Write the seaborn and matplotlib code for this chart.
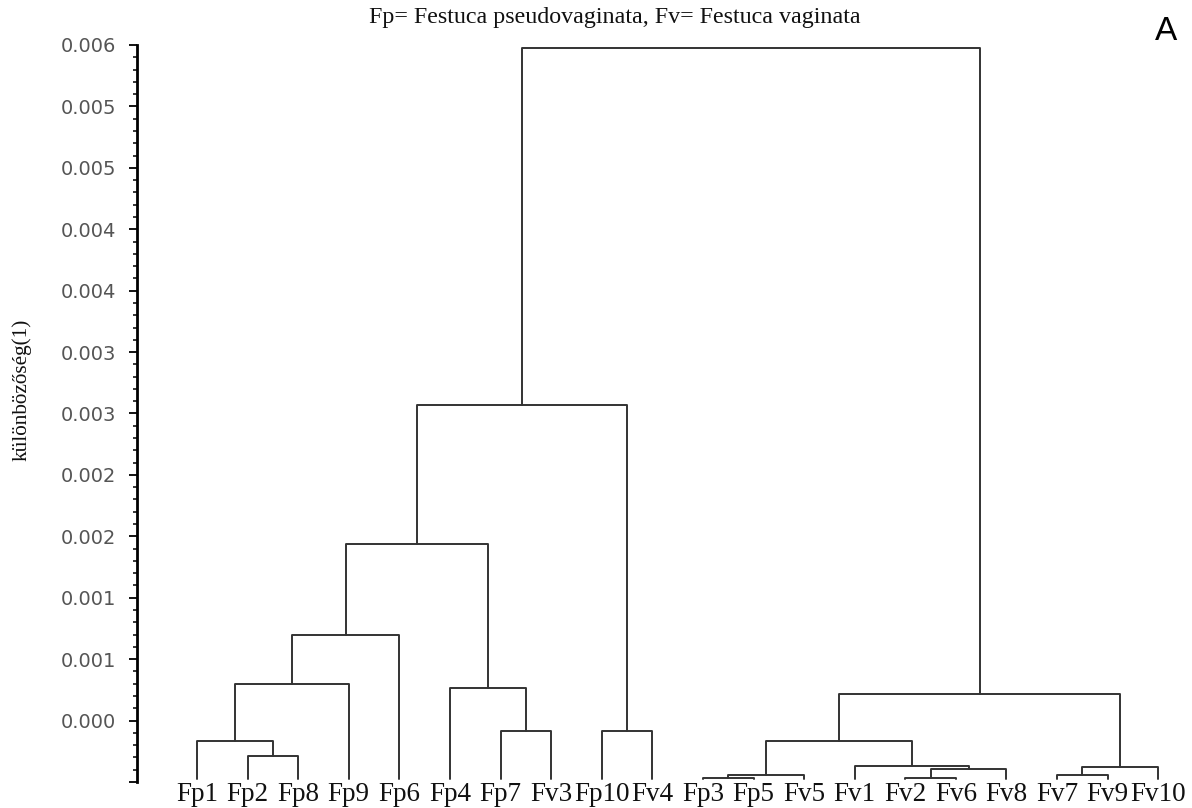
import numpy as np
import pandas as pd
import seaborn as sns
import matplotlib.pyplot as plt
from matplotlib.ticker import MultipleLocator

# leaf order along the bottom
leaves = ["Fp1", "Fp2", "Fp8", "Fp9", "Fp6", "Fp4", "Fp7", "Fv3", "Fp10", "Fv4",
          "Fp3", "Fp5", "Fv5", "Fv1", "Fv2", "Fv6", "Fv8", "Fv7", "Fv9", "Fv10"]

# merges
node_names = ["c1", "c2", "c3", "c4", "c5", "c6", "c7", "c8", "c9", "c10",
              "c11", "c12", "c13", "c14", "c15", "c16", "c17", "c18", "c19"]
left_child = ["Fp2", "Fp1", "c2", "c3", "Fp7", "Fp4", "c4", "Fp10", "c7", "Fp3",
              "c10", "Fv2", "c12", "Fv1", "c11", "Fv7", "c16", "c15", "c9"]
right_child = ["Fp8", "c1", "Fp9", "Fp6", "Fv3", "c5", "c6", "Fv4", "c8", "Fp5",
               "Fv5", "Fv6", "Fv8", "c13", "c14", "Fv9", "Fv10", "c17", "c18"]
heights = [-0.000286, -0.000164, 0.000295, 0.000696, -0.000082, 0.000262, 0.00144,
           -0.000082, 0.00257, -0.000466, -0.000442, -0.000466, -0.000393, -0.000368,
           -0.000164, -0.000442, -0.000376, 0.000213, 0.005475]
leaf_base = -0.000475

ytick_values = [-0.0005, 0.0, 0.0005, 0.001, 0.0015, 0.002, 0.0025,
                0.003, 0.0035, 0.004, 0.0045, 0.005, 0.0055]
ytick_labels = ["", "0.000", "0.001", "0.001", "0.002", "0.002", "0.003",
                "0.003", "0.004", "0.004", "0.005", "0.005", "0.006"]

title = "Fp= Festuca pseudovaginata, Fv= Festuca vaginata"

# build U-shaped links
pos = {name: i for i, name in enumerate(leaves)}
hgt = {name: leaf_base for name in leaves}
rows = []
for name, a, b, h in zip(node_names, left_child, right_child, heights):
    xa, xb = pos[a], pos[b]
    for px, py in [(xa, hgt[a]), (xa, h), (xb, h), (xb, hgt[b])]:
        rows.append({"link": name, "x": px, "y": py})
    pos[name] = (xa + xb) / 2
    hgt[name] = h
seg = pd.DataFrame(rows)

sns.set_style("white")

fig = plt.figure(figsize=(11.92, 8.08), dpi=100)
ax = fig.add_axes([137 / 1192, 1 - 782 / 808, (1180 - 137) / 1192, (782 - 45) / 808])

sns.lineplot(data=seg, x="x", y="y", units="link", estimator=None, sort=False,
             color="#333333", linewidth=1.4, ax=ax)

ax.set_xlim(-1.186, 19.43)
ax.set_ylim(-0.0005, 0.0055)
ax.set_xlabel("")
ax.set_ylabel("")

for s in ["top", "right", "bottom"]:
    ax.spines[s].set_visible(False)
ax.spines["left"].set_color("black")
ax.spines["left"].set_linewidth(2)

ax.set_xticks(range(len(leaves)))
ax.set_xticklabels(leaves, fontsize=19.5, family="Liberation Serif", color="#111111")
ax.tick_params(axis="x", length=0, pad=0)

ax.set_yticks(ytick_values)
ax.set_yticklabels(ytick_labels, fontsize=14, family="DejaVu Sans", color="#555555")
ax.yaxis.set_minor_locator(MultipleLocator(0.0001))
ax.tick_params(axis="y", which="major", direction="out", length=6, width=1.3,
               color="black", left=True, pad=9)
ax.tick_params(axis="y", which="minor", direction="out", length=3, width=1.1,
               color="black", left=True)

fig.text(615 / 1192, 1 - 17 / 808, title, ha="center", va="center",
         fontsize=17.3, family="Liberation Serif", color="#111111")
fig.text(22 / 1192, 1 - 390 / 808, "különbözőség(1)", ha="center", va="center",
         rotation=90, fontsize=15.3, family="Liberation Serif", color="#111111")
fig.text(1166 / 1192, 1 - 32 / 808, "A", ha="center", va="center",
         fontsize=24, family="Liberation Sans", color="black")

fig.savefig("out.png", dpi=100)
